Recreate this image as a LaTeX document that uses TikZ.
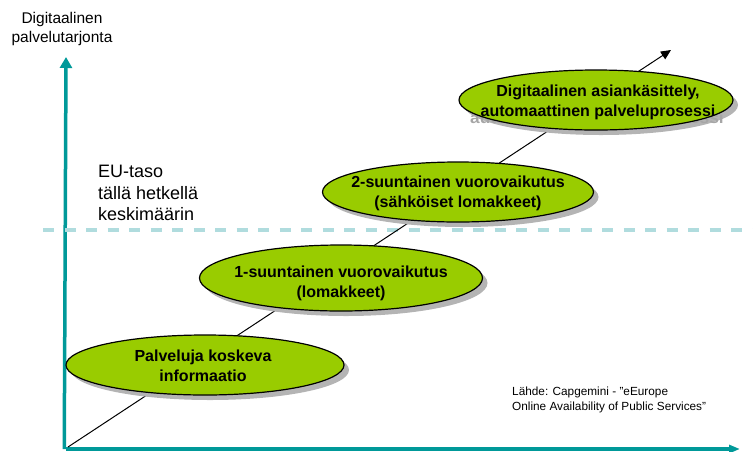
\documentclass[tikz,border=0pt]{standalone}
\usepackage{fontspec}
\setmainfont{Liberation Sans}
\usetikzlibrary{shapes.geometric,arrows.meta}
\definecolor{tealaxis}{RGB}{0,153,153}
\definecolor{dashc}{RGB}{176,220,222}
\definecolor{leaf}{RGB}{153,204,0}
\definecolor{shade}{RGB}{180,180,180}
\begin{document}
\begin{tikzpicture}[x=1pt,y=-1pt,
  stage/.style={ellipse, draw=black, line width=1.2pt, fill=leaf, inner sep=0pt},
  stageshadow/.style={ellipse, fill=shade, inner sep=0pt},
  stagetext/.style={font=\fontsize{16}{20}\selectfont\bfseries, align=center, inner sep=0pt},
  axisline/.style={tealaxis, line width=3.5pt, -{Triangle[length=11pt,width=12pt]}},
  plain/.style={font=\fontsize{18}{21.7}\selectfont, align=left, inner sep=0pt},
]
\useasboundingbox (0,0) rectangle (753,451);

% axes
\coordinate (origin) at (66,449);
\coordinate (ytop) at (66,57);
\coordinate (xend) at (740,449);
\draw[axisline] (64.25,449) -- (ytop);
\draw[tealaxis, line width=3.5pt, -{Triangle[length=11pt,width=8pt]}] (origin) -- (xend);

% dashed EU level
\coordinate (dl) at (43,230);
\coordinate (dr) at (753,230);
\draw[dashc, line width=3.5pt, dash pattern=on 11pt off 10.5pt] (dl) -- (dr);

% diagonal
\coordinate (dstart) at (68,447);
\coordinate (dend) at (671,50);
\draw[line width=1pt, -{Triangle[length=10pt,width=9pt]}] (dstart) -- (dend);

% shadows
\node[stageshadow, minimum width=274pt, minimum height=60pt] (s1) at (601,105) {};
\node[stageshadow, minimum width=271pt, minimum height=60pt] (s2) at (463,197) {};
\node[stageshadow, minimum width=283pt, minimum height=66pt] (s3) at (346,283) {};
\node[stageshadow, minimum width=278pt, minimum height=60pt] (s4) at (210,370) {};

% ghost text of top stage
\node[stagetext, text=black!35, xscale=1.08] (ghost) at (597,119) {automaattinen palveluprosessi};

% stages
\node[stage, minimum width=274pt, minimum height=60pt] (e1) at (596,100) {};
\node[stage, minimum width=271pt, minimum height=60pt] (e2) at (458,192) {};
\node[stage, minimum width=283pt, minimum height=66pt] (e3) at (341,278) {};
\node[stage, minimum width=278pt, minimum height=60pt] (e4) at (205,365) {};

\node[stagetext] (t1) at (598,102) {Digitaalinen asiankäsittely,\\automaattinen palveluprosessi};
\node[stagetext] (t2) at (458,193) {2-suuntainen vuorovaikutus\\(sähköiset lomakkeet)};
\node[stagetext] (t3) at (341,283) {1-suuntainen vuorovaikutus\\(lomakkeet)};
\node[stagetext] (t4) at (203,366) {Palveluja koskeva\\informaatio};

% labels
\node[font=\fontsize{15.5}{19}\selectfont, align=center, inner sep=0pt] (ylabel) at (62,29) {Digitaalinen\\palvelutarjonta};
\node[plain, anchor=west] (eu) at (98,193) {EU-taso\\tällä hetkellä\\keskimäärin};
\node[font=\fontsize{11.8}{15}\selectfont, align=left, inner sep=0pt, anchor=west] (src) at (512,400) {Lähde: Capgemini - ”eEurope\\Online Availability of Public Services”};
\end{tikzpicture}
\end{document}
